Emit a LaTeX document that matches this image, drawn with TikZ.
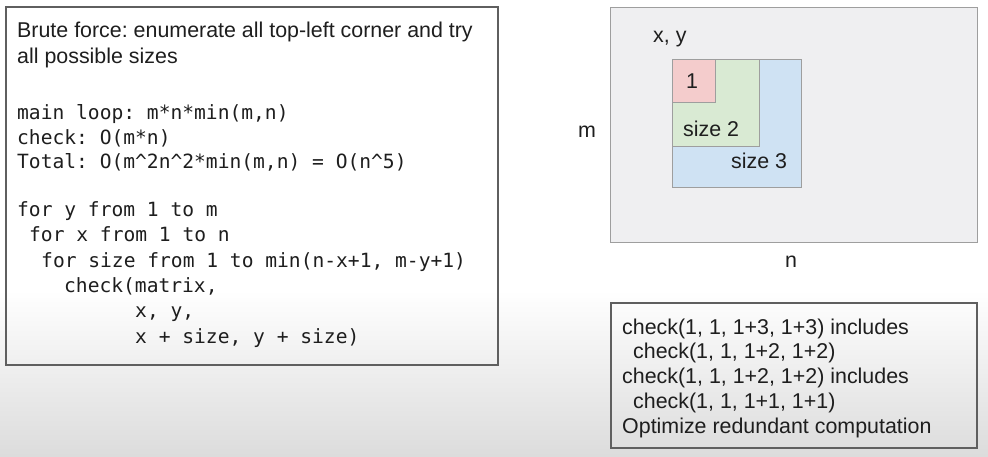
\documentclass[tikz,border=0pt]{standalone}
\usepackage{fontspec}
\setmainfont{Liberation Sans}
\newfontfamily\monof{DejaVu Sans Mono}
\definecolor{textc}{HTML}{1E1E1E}
\definecolor{boxc}{HTML}{5F5F5F}
\definecolor{gridbg}{HTML}{EFEFF1}
\definecolor{gridln}{HTML}{9E9E9E}
\definecolor{redf}{HTML}{F4CCCC}
\definecolor{greenf}{HTML}{D9EAD3}
\definecolor{bluef}{HTML}{CFE2F3}
\definecolor{bgbot}{HTML}{DCDCDC}
\frenchspacing
\begin{document}
\begin{tikzpicture}[x=1pt,y=-1pt,
  txt/.style={anchor=base west, inner sep=0pt, text=textc, font=\fontsize{21.4}{25}\selectfont},
  code/.style={anchor=base west, inner sep=0pt, text=textc, font=\monof\fontsize{19.6}{25}\selectfont},
  framebox/.style={draw=boxc, line width=1.2pt},
  sq/.style={draw=gridln, line width=1pt}]
% background
\useasboundingbox (0,0) rectangle (988,456);
\fill[white] (0,0) rectangle (988,456);
\shade[top color=white, bottom color=bgbot] (0,290) rectangle (988,456);
% left box
\draw[framebox] (6,7) rectangle (498,365);
\node[txt] (t1) at (17,37) {Brute force: enumerate all top-left corner and try};
\node[txt] (t2) at (17,63) {all possible sizes};
\node[code] (c1) at (17,119) {main loop: m*n*min(m,n)};
\node[code] (c2) at (17,144) {check: O(m*n)};
\node[code] (c3) at (17,168) {Total: O(m\textasciicircum 2n\textasciicircum 2*min(m,n) = O(n\textasciicircum 5)};
\node[code] (c4) at (17,216) {for y from 1 to m};
\node[code] (c5) at (29,241) {for x from 1 to n};
\node[code] (c6) at (41,267) {for size from 1 to min(n-x+1, m-y+1)};
\node[code] (c7) at (64,292) {check(matrix,};
\node[code] (c8) at (135,317) {x, y,};
\node[code] (c9) at (135,343) {x + size, y + size)};
% grid diagram
\draw[sq, fill=gridbg] (610,7) rectangle (977,242);
\draw[sq, fill=bluef] (672,59) rectangle (801,187);
\draw[sq, fill=greenf] (672,59) rectangle (759,146);
\draw[sq, fill=redf] (672,59) rectangle (715,102);
\node[txt] (xy) at (653,42) {x, y};
\node[txt] (s1) at (686,88) {1};
\node[txt] (s2) at (683,136) {size 2};
\node[txt] (s3) at (731,168) {size 3};
\node[txt] (lm) at (578,137) {m};
\node[txt] (ln) at (785,267) {n};
% bottom right box
\draw[framebox] (611,303) rectangle (977,448);
\node[txt] (b1) at (622,334) {check(1, 1, 1+3, 1+3) includes};
\node[txt] (b2) at (633,358.5) {check(1, 1, 1+2, 1+2)};
\node[txt] (b3) at (622,383) {check(1, 1, 1+2, 1+2) includes};
\node[txt] (b4) at (633,408) {check(1, 1, 1+1, 1+1)};
\node[txt] (b5) at (622,433) {Optimize redundant computation};
\end{tikzpicture}
\end{document}
